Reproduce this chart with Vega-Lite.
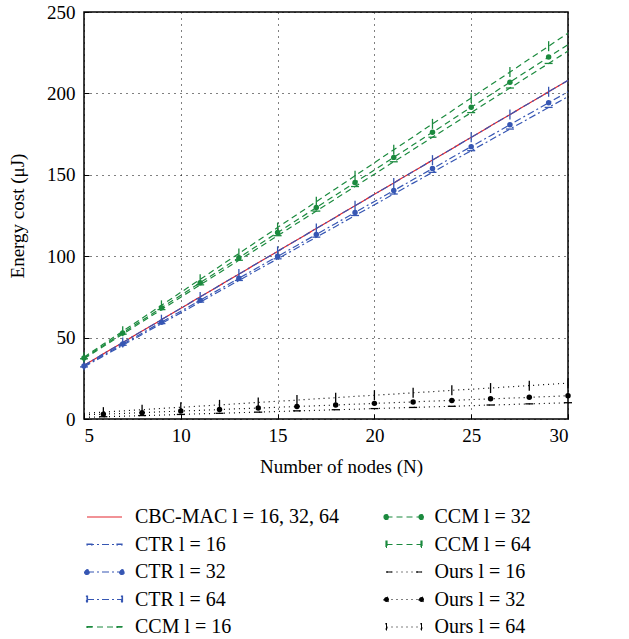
{
  "$schema": "https://vega.github.io/schema/vega-lite/v6.json",
  "width": 484,
  "height": 407,
  "autosize": "none",
  "padding": {"left": 84, "top": 12, "right": 61, "bottom": 220},
  "config": {
    "font": "Liberation Serif",
    "view": {"stroke": "#000", "strokeWidth": 1.5},
    "axis": {
      "labelFont": "Liberation Serif",
      "titleFont": "Liberation Serif",
      "labelFontSize": 19,
      "titleFontSize": 19,
      "labelColor": "#000",
      "titleColor": "#000",
      "titleFontWeight": "normal",
      "domain": false,
      "grid": true,
      "gridColor": "#000",
      "gridDash": [1, 5],
      "gridWidth": 1,
      "tickColor": "#000",
      "tickSize": -5,
      "tickWidth": 1
    },
    "legend": {
      "labelFont": "Liberation Serif",
      "labelFontSize": 20,
      "labelColor": "#000"
    }
  },
  "data": {
    "values": [
      {"N": 5, "cbc": 33, "ctr16": 32, "ctr32": 32.5, "ctr64": 33, "ccm16": 37, "ccm32": 37.5, "ccm64": 38, "o16": 1, "o32": 2.5, "o64": 3.5},
      {"N": 6, "cbc": 40, "ctr16": 38.6, "ctr32": 39.2, "ctr64": 40, "ccm16": 44.6, "ccm32": 45.2, "ccm64": 46.0, "o16": 1.4, "o32": 3.0, "o64": 4.2},
      {"N": 7, "cbc": 47, "ctr16": 45.3, "ctr32": 46.0, "ctr64": 47, "ccm16": 52.1, "ccm32": 52.9, "ccm64": 53.9, "o16": 1.7, "o32": 3.4, "o64": 5.0},
      {"N": 8, "cbc": 54, "ctr16": 51.9, "ctr32": 52.7, "ctr64": 54, "ccm16": 59.7, "ccm32": 60.6, "ccm64": 61.9, "o16": 2.1, "o32": 3.9, "o64": 5.7},
      {"N": 9, "cbc": 61, "ctr16": 58.6, "ctr32": 59.5, "ctr64": 61, "ccm16": 67.2, "ccm32": 68.3, "ccm64": 69.8, "o16": 2.4, "o32": 4.4, "o64": 6.5},
      {"N": 10, "cbc": 68, "ctr16": 65.2, "ctr32": 66.2, "ctr64": 68, "ccm16": 74.8, "ccm32": 76.0, "ccm64": 77.8, "o16": 2.8, "o32": 4.9, "o64": 7.2},
      {"N": 11, "cbc": 75, "ctr16": 71.8, "ctr32": 72.9, "ctr64": 75, "ccm16": 82.4, "ccm32": 83.7, "ccm64": 85.8, "o16": 3.2, "o32": 5.3, "o64": 7.9},
      {"N": 12, "cbc": 82, "ctr16": 78.5, "ctr32": 79.7, "ctr64": 82, "ccm16": 89.9, "ccm32": 91.4, "ccm64": 93.7, "o16": 3.5, "o32": 5.8, "o64": 8.7},
      {"N": 13, "cbc": 89, "ctr16": 85.1, "ctr32": 86.4, "ctr64": 89, "ccm16": 97.5, "ccm32": 99.1, "ccm64": 101.7, "o16": 3.9, "o32": 6.3, "o64": 9.4},
      {"N": 14, "cbc": 96, "ctr16": 91.8, "ctr32": 93.2, "ctr64": 96, "ccm16": 105.0, "ccm32": 106.8, "ccm64": 109.6, "o16": 4.2, "o32": 6.7, "o64": 10.2},
      {"N": 15, "cbc": 103, "ctr16": 98.4, "ctr32": 99.9, "ctr64": 103, "ccm16": 112.6, "ccm32": 114.5, "ccm64": 117.6, "o16": 4.6, "o32": 7.2, "o64": 10.9},
      {"N": 16, "cbc": 110, "ctr16": 105.0, "ctr32": 106.6, "ctr64": 110, "ccm16": 120.2, "ccm32": 122.2, "ccm64": 125.6, "o16": 5.0, "o32": 7.7, "o64": 11.6},
      {"N": 17, "cbc": 117, "ctr16": 111.7, "ctr32": 113.4, "ctr64": 117, "ccm16": 127.7, "ccm32": 129.9, "ccm64": 133.5, "o16": 5.3, "o32": 8.1, "o64": 12.4},
      {"N": 18, "cbc": 124, "ctr16": 118.3, "ctr32": 120.1, "ctr64": 124, "ccm16": 135.3, "ccm32": 137.6, "ccm64": 141.5, "o16": 5.7, "o32": 8.6, "o64": 13.1},
      {"N": 19, "cbc": 131, "ctr16": 125.0, "ctr32": 126.9, "ctr64": 131, "ccm16": 142.8, "ccm32": 145.3, "ccm64": 149.4, "o16": 6.0, "o32": 9.1, "o64": 13.9},
      {"N": 20, "cbc": 138, "ctr16": 131.6, "ctr32": 133.6, "ctr64": 138, "ccm16": 150.4, "ccm32": 153.0, "ccm64": 157.4, "o16": 6.4, "o32": 9.6, "o64": 14.6},
      {"N": 21, "cbc": 145, "ctr16": 138.2, "ctr32": 140.3, "ctr64": 145, "ccm16": 158.0, "ccm32": 160.7, "ccm64": 165.4, "o16": 6.8, "o32": 10.0, "o64": 15.3},
      {"N": 22, "cbc": 152, "ctr16": 144.9, "ctr32": 147.1, "ctr64": 152, "ccm16": 165.5, "ccm32": 168.4, "ccm64": 173.3, "o16": 7.1, "o32": 10.5, "o64": 16.1},
      {"N": 23, "cbc": 159, "ctr16": 151.5, "ctr32": 153.8, "ctr64": 159, "ccm16": 173.1, "ccm32": 176.1, "ccm64": 181.3, "o16": 7.5, "o32": 11.0, "o64": 16.8},
      {"N": 24, "cbc": 166, "ctr16": 158.2, "ctr32": 160.6, "ctr64": 166, "ccm16": 180.6, "ccm32": 183.8, "ccm64": 189.2, "o16": 7.8, "o32": 11.4, "o64": 17.6},
      {"N": 25, "cbc": 173, "ctr16": 164.8, "ctr32": 167.3, "ctr64": 173, "ccm16": 188.2, "ccm32": 191.5, "ccm64": 197.2, "o16": 8.2, "o32": 11.9, "o64": 18.3},
      {"N": 26, "cbc": 180, "ctr16": 171.4, "ctr32": 174.0, "ctr64": 180, "ccm16": 195.8, "ccm32": 199.2, "ccm64": 205.2, "o16": 8.6, "o32": 12.4, "o64": 19.0},
      {"N": 27, "cbc": 187, "ctr16": 178.1, "ctr32": 180.8, "ctr64": 187, "ccm16": 203.3, "ccm32": 206.9, "ccm64": 213.1, "o16": 8.9, "o32": 12.8, "o64": 19.8},
      {"N": 28, "cbc": 194, "ctr16": 184.7, "ctr32": 187.5, "ctr64": 194, "ccm16": 210.9, "ccm32": 214.6, "ccm64": 221.1, "o16": 9.3, "o32": 13.3, "o64": 20.5},
      {"N": 29, "cbc": 201, "ctr16": 191.4, "ctr32": 194.3, "ctr64": 201, "ccm16": 218.4, "ccm32": 222.3, "ccm64": 229.0, "o16": 9.6, "o32": 13.8, "o64": 21.3},
      {"N": 30, "cbc": 208, "ctr16": 198.0, "ctr32": 201.0, "ctr64": 208, "ccm16": 226.0, "ccm32": 230.0, "ccm64": 237.0, "o16": 10.0, "o32": 14.3, "o64": 22.0}
    ]
  },
  "transform": [
    {"fold": ["cbc", "ctr16", "ctr32", "ctr64", "ccm16", "ccm32", "ccm64", "o16", "o32", "o64"], "as": ["key", "value"]}
  ],
  "encoding": {
    "x": {
      "field": "N",
      "type": "quantitative",
      "scale": {"domain": [5, 30], "nice": false},
      "axis": {"values": [5, 10, 15, 20, 25, 30], "title": "Number of nodes (N)", "labelPadding": 12, "titlePadding": 12, "titleX": 257}
    },
    "y": {
      "field": "value",
      "type": "quantitative",
      "scale": {"domain": [0, 250], "nice": false},
      "axis": {"values": [0, 50, 100, 150, 200, 250], "title": "Energy cost (μJ)", "labelPadding": 14, "titlePadding": 19}
    },
    "color": {
      "field": "key",
      "type": "nominal",
      "scale": {
        "domain": ["cbc", "ctr16", "ctr32", "ctr64", "ccm16", "ccm32", "ccm64", "o16", "o32", "o64"],
        "range": ["#e4262e", "#3656b3", "#3656b3", "#3656b3", "#1b8a3e", "#1b8a3e", "#1b8a3e", "#000000", "#000000", "#000000"]
      },
      "legend": {
        "title": null,
        "orient": "none",
        "legendX": 9.5,
        "legendY": 494,
        "columns": 2,
        "columnPadding": 41.5,
        "rowPadding": 6.5,
        "symbolType": "stroke",
        "symbolSize": 400,
        "symbolStrokeWidth": 1.2,
        "labelOffset": 19.5,
        "labelLimit": 300,
        "labelExpr": "{'cbc': 'CBC-MAC l = 16, 32, 64', 'ctr16': 'CTR l = 16', 'ctr32': 'CTR l = 32', 'ctr64': 'CTR l = 64', 'ccm16': 'CCM l = 16', 'ccm32': 'CCM l = 32', 'ccm64': 'CCM l = 64', 'o16': 'Ours l = 16', 'o32': 'Ours l = 32', 'o64': 'Ours l = 64'}[datum.label]",
        "encode": {
          "symbols": {
            "update": {
              "fill": {"scale": "color", "field": "value"},
              "shape": {"signal": "datum.value == 'cbc' ? 'M-1.75,0H1.75' : (datum.value == 'ctr32' || datum.value == 'ccm32' || datum.value == 'o32') ? 'M-1.75,0H1.75M-2,0a0.25,0.25 0 1,0 0.5,0a0.25,0.25 0 1,0 -0.5,0M1.5,0a0.25,0.25 0 1,0 0.5,0a0.25,0.25 0 1,0 -0.5,0' : (datum.value == 'ctr64' || datum.value == 'ccm64' || datum.value == 'o64') ? 'M-1.75,0H1.75M-1.8,-0.35h0.1v0.7h-0.1zM1.7,-0.35h0.1v0.7h-0.1z' : 'M-1.75,0H1.75M-1.75,-0.05h0.5v0.1h-0.5zM1.25,-0.05h0.5v0.1h-0.5z'"}
            }
          }
        }
      }
    }
  },
  "layer": [
    {
      "mark": {"type": "line", "strokeWidth": 1.2},
      "encoding": {
        "strokeDash": {
          "field": "key",
          "type": "nominal",
          "scale": {
            "domain": ["cbc", "ctr16", "ctr32", "ctr64", "ccm16", "ccm32", "ccm64", "o16", "o32", "o64"],
            "range": [[1, 0], [7, 3, 2, 3], [7, 3, 2, 3], [7, 3, 2, 3], [6, 4], [6, 4], [6, 4], [1, 4], [1, 4], [1, 4]]
          }
        }
      }
    },
    {
      "transform": [{"filter": "((datum.key == 'ctr32' || datum.key == 'ccm32') && datum.N % 2 == 1) || (datum.key == 'o32' && datum.N % 2 == 0)"}],
      "mark": {"type": "point", "shape": "circle", "filled": true, "size": 30, "opacity": 1}
    },
    {
      "transform": [{"filter": "((datum.key == 'ctr64' || datum.key == 'ccm64') && datum.N % 2 == 1) || (datum.key == 'o64' && datum.N % 2 == 0)"}],
      "mark": {"type": "point", "shape": "M0,-1L0,1", "filled": false, "size": 100, "strokeWidth": 1.3, "opacity": 1}
    },
    {
      "transform": [{"filter": "((datum.key == 'ctr16' || datum.key == 'ccm16') && datum.N % 2 == 1) || (datum.key == 'o16' && datum.N % 2 == 0)"}],
      "mark": {"type": "point", "shape": "stroke", "filled": false, "size": 64, "strokeWidth": 1.3, "opacity": 1}
    }
  ]
}
